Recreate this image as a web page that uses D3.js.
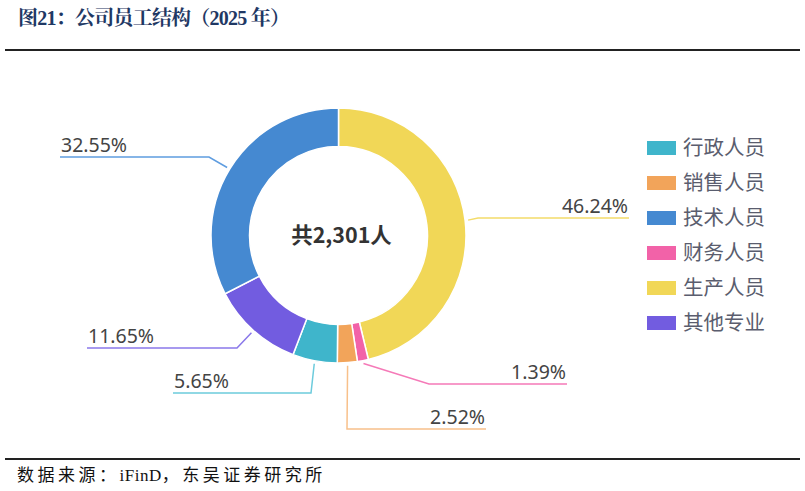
<!DOCTYPE html>
<html><head><meta charset="utf-8">
<script src="https://cdn.jsdelivr.net/npm/d3@7"></script>
<style>body{margin:0;background:#fff}svg{display:block}</style>
</head><body><svg id="c" width="805" height="491"></svg>
<script>
// Data (slice order as drawn, clockwise from 12 o'clock)
const categories = ["生产人员","财务人员","销售人员","行政人员","其他专业","技术人员"];
const shares = [46.24, 1.39, 2.52, 5.65, 11.65, 32.55];
const legendOrder = ["行政人员","销售人员","技术人员","财务人员","生产人员","其他专业"];
const totalLabel = "共2,301人";
const titleText = "图21：公司员工结构（2025 年）";
const sourceParts = ["数据来源：", "iFinD", "，东吴证券研究所"];

// Styles / layout (not data)
const colors = {"行政人员":"#3fb5cb","销售人员":"#f2a45a","技术人员":"#4589d1","财务人员":"#f262a8","生产人员":"#f1d757","其他专业":"#725ce0"};
const lineColors = {"行政人员":"#6ccbdc","销售人员":"#f8c08a","技术人员":"#5f9de0","财务人员":"#f57ab8","生产人员":"#f3dc6a","其他专业":"#8a78ea"};
// leader-line elbow and end positions (label layout)
const labelLayout = {
  "生产人员":{ex:478, ey:218, endX:629},
  "财务人员":{ex:429, ey:384, endX:567},
  "销售人员":{ex:347, ey:429, endX:486},
  "行政人员":{ex:311, ey:393, endX:173},
  "其他专业":{ex:237, ey:348, endX:87},
  "技术人员":{ex:209, ey:157, endX:60}
};

const svg = d3.select("#c");
const cx = 338.5, cy = 235.5, rOuter = 127.5, rInner = 89;

// Title
svg.append("text").attr("x",18).attr("y",25)
  .attr("font-family","'Liberation Serif','Noto Serif CJK SC','Noto Sans CJK SC',serif")
  .attr("font-weight","bold").attr("font-size",20).attr("fill","#1f3864")
  .attr("textLength",272).attr("lengthAdjust","spacing")
  .text(titleText);
svg.append("line").attr("x1",5).attr("x2",800).attr("y1",50).attr("y2",50)
  .attr("stroke","#222").attr("stroke-width",2);
svg.append("line").attr("x1",5).attr("x2",800).attr("y1",459).attr("y2",459)
  .attr("stroke","#222").attr("stroke-width",2);
const src = svg.append("text").attr("x",17).attr("y",481)
  .attr("font-family","'Liberation Serif','Noto Sans CJK SC',serif")
  .attr("font-size",17).attr("fill","#111");
sourceParts.forEach((t,i)=>{
  src.append("tspan").attr("letter-spacing", i===1 ? 0.5 : 3.5).text(t);
});

const data = categories.map((c,i)=>({name:c, value:shares[i]}));
const pie = d3.pie().value(d=>d.value).sort(null);
const arcs = pie(data);
const arc = d3.arc().innerRadius(rInner).outerRadius(rOuter);
const g = svg.append("g").attr("transform",`translate(${cx},${cy})`);
g.selectAll("path").data(arcs).join("path")
  .attr("d",arc).attr("fill",d=>colors[d.data.name])
  .attr("stroke","#fff").attr("stroke-width",1.5);

// Leader lines & labels
const lineArc = d3.arc().innerRadius(rOuter+3).outerRadius(rOuter+3);
arcs.forEach(d=>{
  const [sx,sy] = lineArc.centroid(d);
  const L = labelLayout[d.data.name];
  const p0 = [cx+sx, cy+sy];
  svg.append("polyline")
    .attr("points",[p0,[L.ex,L.ey],[L.endX,L.ey]].map(p=>p.join(",")).join(" "))
    .attr("fill","none").attr("stroke",lineColors[d.data.name]).attr("stroke-width",1.5);
  const right = L.endX > L.ex;
  svg.append("text").attr("x", right ? L.endX-1 : L.endX+1).attr("y",L.ey-5)
    .attr("text-anchor", right ? "end" : "start")
    .attr("font-family","'Noto Sans','Noto Sans CJK SC',sans-serif")
    .attr("font-size",19.5).attr("fill","#444")
    .text(d3.format(".2f")(d.data.value)+"%");
});

// Center text
svg.append("text").attr("x",cx+3).attr("y",cy+7).attr("text-anchor","middle")
  .attr("font-family","'Noto Sans CJK SC',sans-serif").attr("font-weight","bold")
  .attr("font-size",21.5).attr("fill","#333").text(totalLabel);

// Legend
const leg = svg.append("g");
const yL = d3.scalePoint().domain(legendOrder).range([148, 323]);
legendOrder.forEach(n=>{
  leg.append("rect").attr("x",647).attr("y",yL(n)-7).attr("width",29).attr("height",14)
    .attr("fill",colors[n]);
  leg.append("text").attr("x",683).attr("y",yL(n)+7)
    .attr("font-family","'Noto Sans CJK SC',sans-serif").attr("font-size",20.5)
    .attr("fill","#5a5d6e").text(n);
});
</script></body></html>
